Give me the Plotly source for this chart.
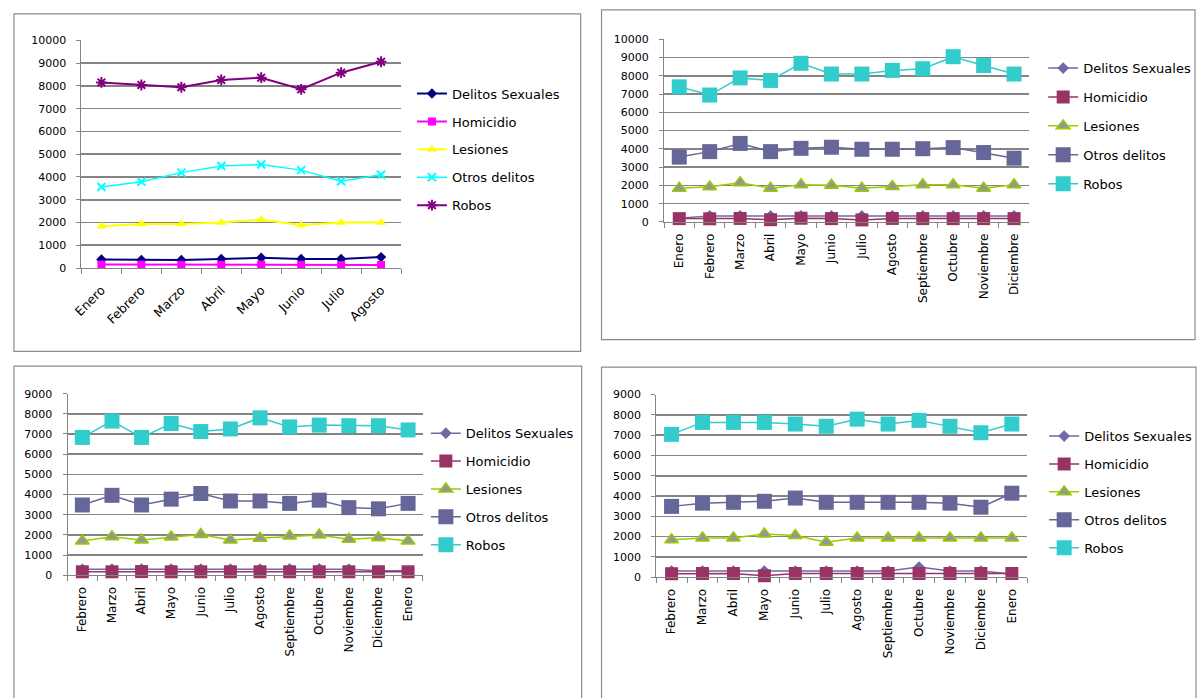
import plotly.graph_objects as go

W, H = 1198, 698

# ---------------- data ----------------
series_names = ["Delitos Sexuales", "Homicidio", "Lesiones", "Otros delitos", "Robos"]

months1 = ["Enero", "Febrero", "Marzo", "Abril", "Mayo", "Junio", "Julio", "Agosto"]
p1_delitos = [380, 350, 350, 400, 450, 400, 400, 480]
p1_homicidio = [150, 150, 140, 140, 150, 140, 130, 130]
p1_lesiones = [1830, 1930, 1930, 2000, 2120, 1890, 2000, 2000]
p1_otros = [3560, 3790, 4190, 4480, 4550, 4300, 3810, 4100]
p1_robos = [8150, 8040, 7940, 8260, 8360, 7850, 8580, 9060]

months2 = ["Enero", "Febrero", "Marzo", "Abril", "Mayo", "Junio", "Julio", "Agosto",
           "Septiembre", "Octubre", "Noviembre", "Diciembre"]
p2_delitos = [200, 330, 330, 330, 330, 330, 330, 330, 330, 330, 330, 330]
p2_homicidio = [180, 170, 190, 120, 200, 180, 110, 190, 180, 180, 180, 180]
p2_lesiones = [1850, 1920, 2150, 1850, 2030, 2010, 1850, 1940, 2030, 2030, 1850, 2030]
p2_otros = [3550, 3850, 4300, 3850, 4030, 4090, 3980, 3980, 4010, 4070, 3800, 3490]
p2_robos = [7400, 6950, 7890, 7750, 8690, 8100, 8100, 8300, 8390, 9050, 8570, 8100]

months3 = ["Febrero", "Marzo", "Abril", "Mayo", "Junio", "Julio", "Agosto",
           "Septiembre", "Octubre", "Noviembre", "Diciembre", "Enero"]
p3_delitos = [290, 300, 300, 300, 300, 300, 300, 310, 320, 300, 220, 220]
p3_homicidio = [170, 170, 180, 170, 170, 170, 170, 170, 170, 170, 170, 170]
p3_lesiones = [1700, 1910, 1750, 1890, 2020, 1750, 1830, 1940, 1990, 1780, 1860, 1700]
p3_otros = [3480, 3960, 3480, 3770, 4050, 3680, 3680, 3560, 3720, 3350, 3290, 3560]
p3_robos = [6830, 7640, 6830, 7520, 7120, 7250, 7800, 7350, 7440, 7410, 7410, 7200]

months4 = ["Febrero", "Marzo", "Abril", "Mayo", "Junio", "Julio", "Agosto",
           "Septiembre", "Octubre", "Noviembre", "Diciembre", "Enero"]
p4_delitos = [300, 300, 300, 300, 300, 300, 300, 300, 500, 300, 300, 150]
p4_homicidio = [170, 180, 180, 70, 180, 180, 180, 180, 180, 180, 180, 180]
p4_lesiones = [1840, 1930, 1930, 2130, 2050, 1720, 1930, 1930, 1930, 1930, 1930, 1930]
p4_otros = [3490, 3650, 3690, 3740, 3900, 3690, 3690, 3690, 3690, 3650, 3450, 4140]
p4_robos = [7040, 7630, 7630, 7630, 7550, 7440, 7790, 7550, 7730, 7440, 7120, 7550]

# ---------------- styles ----------------
style_a = [  # top-left panel
    dict(color="#000080", symbol="diamond", size=8, lw=2),
    dict(color="#FF00FF", symbol="square", size=8, lw=2),
    dict(color="#FFFF00", symbol="triangle-up", size=9, lw=2),
    dict(color="#00FFFF", symbol="x-thin-open", size=8, lw=1.5),
    dict(color="#800080", symbol="asterisk-open", size=9, lw=2),
]
style_b = [  # other panels
    dict(color="#6E6AA6", symbol="diamond", size=9, lw=1.5),
    dict(color="#993366", symbol="square", size=13, lw=1.5),
    dict(color="#99CC00", symbol="triangle-up", size=12, lw=1.5, fill="#969696"),
    dict(color="#666699", symbol="square", size=15, lw=1.5),
    dict(color="#33CCCC", symbol="square", size=15, lw=1.5),
]

FONT = "DejaVu Sans"
GRID = "#848484"


def dx(px):
    return px / W


def dy(py):
    return 1 - py / H


fig = go.Figure()

panels = [
    dict(cats=months1, vals=[p1_delitos, p1_homicidio, p1_lesiones, p1_otros, p1_robos],
         style=style_a, xd=(73, 395), yd=(35, 267), ymax=10000, angle=-45, xfs=12.5,
         xstand=9, leg=(406, 74), gap=8),
    dict(cats=months2, vals=[p2_delitos, p2_homicidio, p2_lesiones, p2_otros, p2_robos],
         style=style_b, xd=(660, 1028), yd=(34, 220), ymax=10000, angle=-90, xfs=12,
         xstand=6, leg=(1042, 48), gap=9),
    dict(cats=months3, vals=[p3_delitos, p3_homicidio, p3_lesiones, p3_otros, p3_robos],
         style=style_b, xd=(59, 417), yd=(395, 580), ymax=9000, angle=-90, xfs=12,
         xstand=6, leg=(420, 420), gap=8),
    dict(cats=months4, vals=[p4_delitos, p4_homicidio, p4_lesiones, p4_otros, p4_robos],
         style=style_b, xd=(652, 1026), yd=(396, 582), ymax=9000, angle=-90, xfs=12,
         xstand=6, leg=(1043, 423), gap=8),
]

for i, p in enumerate(panels):
    n = i + 1
    xa = "x" if n == 1 else f"x{n}"
    ya = "y" if n == 1 else f"y{n}"
    lg = "legend" if n == 1 else f"legend{n}"
    for j, (name, vals) in enumerate(zip(series_names, p["vals"])):
        s = p["style"][j]
        if s["symbol"].endswith("-open"):
            marker = dict(symbol=s["symbol"], size=s["size"], color=s["color"],
                          line=dict(color=s["color"], width=2))
        else:
            marker = dict(symbol=s["symbol"], size=s["size"], color=s.get("fill", s["color"]),
                          line=dict(color=s["color"], width=1.5 if "fill" in s else 0))
        fig.add_trace(go.Scatter(
            x=p["cats"], y=vals, name=name, mode="lines+markers",
            line=dict(color=s["color"], width=s["lw"]), marker=marker,
            xaxis=xa, yaxis=ya, legend=lg, legendgroup=f"{n}-{j}",
            cliponaxis=False,
        ))
    xk = "xaxis" if n == 1 else f"xaxis{n}"
    yk = "yaxis" if n == 1 else f"yaxis{n}"
    fig.update_layout({
        xk: dict(domain=[dx(p["xd"][0]), dx(p["xd"][1])], anchor=ya, type="category",
                 showgrid=False, showline=True, linecolor=GRID, linewidth=1,
                 ticks="outside", tickson="boundaries", ticklen=5, tickcolor=GRID,
                 ticklabelstandoff=p["xstand"],
                 tickangle=p["angle"], tickfont=dict(family=FONT, size=p["xfs"], color="#000"),
                 range=[-0.5, len(p["cats"]) - 0.5], fixedrange=True),
        yk: dict(domain=[dy(p["yd"][1]), dy(p["yd"][0])], anchor=xa,
                 range=[0, p["ymax"]], dtick=1000, tickformat="d",
                 showgrid=True, gridcolor=GRID, gridwidth=1.6, zeroline=False,
                 showline=True, linecolor=GRID, linewidth=1,
                 ticks="outside", ticklen=4, tickcolor=GRID, ticklabelstandoff=8,
                 tickfont=dict(family=FONT, size=11, color="#000")),
        lg: dict(x=dx(p["leg"][0]), y=dy(p["leg"][1]), xanchor="left", yanchor="top",
                 bgcolor="rgba(0,0,0,0)", tracegroupgap=p["gap"],
                 font=dict(family=FONT, size=13, color="#000")),
    })

# panel borders
borders = [(5, 8, 576, 352), (597, 4, 1195, 340), (5, 367, 577, 720), (597, 368, 1196, 720)]
for (x0, y0, x1, y1) in borders:
    fig.add_shape(type="rect", xref="paper", yref="paper",
                  x0=dx(x0), x1=dx(x1), y0=dy(y1), y1=dy(y0),
                  line=dict(color="#8c8c8c", width=1.2), fillcolor="rgba(0,0,0,0)", layer="below")

fig.update_layout(width=W, height=H, margin=dict(l=0, r=0, t=0, b=0),
                  paper_bgcolor="white", plot_bgcolor="white", showlegend=True,
                  font=dict(family=FONT, size=11, color="#000"))

fig.write_html("out.html", config={"displayModeBar": False, "staticPlot": True},
               post_script="document.body.style.margin='0';document.body.style.overflow='hidden';")
